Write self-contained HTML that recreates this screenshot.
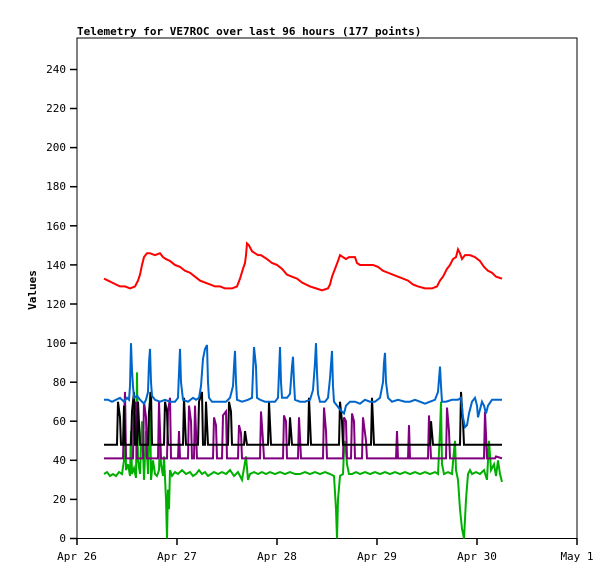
<!DOCTYPE html>
<html><head><meta charset="utf-8"><style>
html,body{margin:0;padding:0;background:#fff}
svg{display:block}
text{font-family:"DejaVu Sans Mono","Liberation Mono",monospace;font-size:11px;fill:#000}
</style></head><body>
<svg width="615" height="579" viewBox="0 0 615 579" xmlns="http://www.w3.org/2000/svg">
<rect width="615" height="579" fill="#fff"/>
<text x="77" y="35" font-weight="bold">Telemetry for VE7ROC over last 96 hours (177 points)</text>
<rect x="77" y="38" width="500" height="500.5" fill="none" stroke="#000" stroke-width="1"/>
<g stroke="#000" stroke-width="1.5">
<line x1="70" y1="538.5" x2="77" y2="538.5"/><line x1="70" y1="499.4" x2="77" y2="499.4"/><line x1="70" y1="460.3" x2="77" y2="460.3"/><line x1="70" y1="421.2" x2="77" y2="421.2"/><line x1="70" y1="382.2" x2="77" y2="382.2"/><line x1="70" y1="343.1" x2="77" y2="343.1"/><line x1="70" y1="304" x2="77" y2="304"/><line x1="70" y1="264.9" x2="77" y2="264.9"/><line x1="70" y1="225.8" x2="77" y2="225.8"/><line x1="70" y1="186.7" x2="77" y2="186.7"/><line x1="70" y1="147.6" x2="77" y2="147.6"/><line x1="70" y1="108.5" x2="77" y2="108.5"/><line x1="70" y1="69.5" x2="77" y2="69.5"/>
<line x1="77" y1="538" x2="77" y2="545"/><line x1="177" y1="538" x2="177" y2="545"/><line x1="277" y1="538" x2="277" y2="545"/><line x1="377" y1="538" x2="377" y2="545"/><line x1="477" y1="538" x2="477" y2="545"/><line x1="577" y1="538" x2="577" y2="545"/>
</g>
<g text-anchor="end">
<text x="66" y="542">0</text><text x="66" y="503">20</text><text x="66" y="464">40</text><text x="66" y="425">60</text><text x="66" y="386">80</text><text x="66" y="347">100</text><text x="66" y="308">120</text><text x="66" y="269">140</text><text x="66" y="230">160</text><text x="66" y="190">180</text><text x="66" y="151">200</text><text x="66" y="112">220</text><text x="66" y="73">240</text>
</g>
<g text-anchor="middle">
<text x="77" y="560">Apr 26</text><text x="177" y="560">Apr 27</text><text x="277" y="560">Apr 28</text><text x="377" y="560">Apr 29</text><text x="477" y="560">Apr 30</text><text x="577" y="560">May 1</text>
</g>
<text x="36" y="290" font-weight="bold" text-anchor="middle" transform="rotate(-90 36 290)">Values</text>
<g transform="translate(0,538.5) scale(1,-1.954)" fill="none" stroke-width="2" stroke-linejoin="miter">
<polyline vector-effect="non-scaling-stroke" stroke="#00b000" points="104,33 107,34 110,32 113,33 116,32 119,34 122,33 124,40 125,70 126,35 128,38 130,32 131,55 132,33 134,36 136,31 137,85 138,40 140,33 142,60 144,30 146,55 148,33 150,75 151,30 153,40 155,33 157,32 159,35 160,50 161,38 163,32 164,42 166,20 167,0 168,25 169,15 170,35 172,32 175,34 178,33 182,35 186,33 190,34 193,32 196,33 199,35 202,33 205,34 208,32 211,33 214,34 218,33 222,34 226,33 230,35 234,32 238,34 242,30 244,36 246,42 248,30 250,33 254,34 258,33 262,34 266,33 270,34 275,33 280,34 285,33 290,34 295,33 300,33 305,34 310,33 315,34 320,33 325,34 330,33 334,32 336,15 337,0 338,20 340,32 343,33 344,45 345,50 347,38 349,33 352,33 356,34 360,33 365,34 370,33 375,34 380,33 385,34 390,33 395,34 400,33 405,34 410,33 415,34 420,33 425,34 430,33 435,34 438,33 440,55 441,70 442,38 444,33 448,34 452,33 454,45 455,50 456,35 458,30 460,15 462,5 464,0 466,20 468,33 470,35 472,33 476,34 480,33 484,35 487,30 489,50 491,35 494,38 496,32 498,40 500,33 502,29"/>
<polyline vector-effect="non-scaling-stroke" stroke="#800080" points="104,41 123,41 124,60 125,75 126,41 133,41 134,65 136,70 137,41 143,41 144,70 146,62 147,41 158,41 159,70 161,41 167,41 168,65 170,72 171,41 178,41 179,55 180,41 188,41 189,68 191,60 192,41 194,41 195,68 197,41 213,41 214,62 216,58 217,41 222,41 223,63 226,65 227,41 238,41 239,58 241,54 242,41 260,41 261,65 263,50 264,41 283,41 284,63 286,60 287,41 298,41 299,62 301,41 323,41 324,67 326,55 327,41 343,41 344,62 346,60 347,41 351,41 352,64 354,60 355,41 362,41 363,62 366,50 367,41 396,41 397,55 398,41 408,41 409,58 410,41 428,41 429,63 431,41 446,41 447,67 449,55 450,41 484,41 485,65 487,41 495,41 496,42 502,41"/>
<polyline vector-effect="non-scaling-stroke" stroke="#000" points="104,48 117,48 118,70 120,62 121,48 123,48 124,68 125,48 131,48 132,65 134,75 135,48 137,48 138,70 140,48 148,48 149,65 151,75 152,48 164,48 165,70 167,65 168,48 183,48 184,72 186,48 198,48 199,70 202,75 203,48 205,48 206,70 208,48 228,48 229,70 231,65 232,48 244,48 245,55 247,48 268,48 269,70 271,48 289,48 290,62 292,48 308,48 309,72 311,48 339,48 340,70 342,60 343,48 371,48 372,72 374,48 430,48 431,60 433,48 460,48 461,75 463,60 464,48 502,48"/>
<polyline vector-effect="non-scaling-stroke" stroke="#0066cc" points="104,71 108,71 112,70 116,71 120,72 124,70 127,72 129,71 130,78 131,100 132,86 133,78 134,72 137,73 140,71 144,69 146,71 148,75 149,90 150,97 151,80 152,73 155,71 160,70 165,71 170,70 175,70 178,72 179,85 180,97 181,80 183,71 188,70 193,72 196,71 199,72 201,78 203,92 205,97 207,99 208,80 209,72 212,70 220,70 226,70 230,72 233,78 234,88 235,96 236,80 237,71 242,70 248,71 252,72 253,85 254,98 256,88 257,72 260,71 265,70 270,70 275,70 278,72 279,85 280,98 281,80 282,72 287,72 290,74 292,88 293,93 294,80 295,71 300,70 305,70 310,71 313,76 315,90 316,100 317,85 318,74 320,70 325,70 328,72 330,82 332,96 333,78 334,70 337,68 340,66 344,64 346,68 350,70 355,70 360,69 365,71 370,70 375,70 380,72 383,80 384,90 385,95 386,80 388,72 392,70 398,71 405,70 410,70 415,71 420,70 425,69 430,70 435,71 438,75 440,88 441,78 442,70 446,70 452,71 458,71 461,72 463,62 465,57 467,58 469,64 472,70 475,72 477,68 478,62 480,66 482,70 484,68 486,64 488,68 492,71 496,71 502,71"/>
<polyline vector-effect="non-scaling-stroke" stroke="#ff0000" points="104,133 108,132 112,131 116,130 120,129 125,129 130,128 135,129 138,132 140,135 142,140 144,144 147,146 150,146 155,145 160,146 163,144 166,143 170,142 175,140 180,139 185,137 190,136 195,134 200,132 205,131 210,130 215,129 220,129 225,128 232,128 237,129 240,133 243,138 245,141 246,145 247,151 249,150 252,147 255,146 258,145 261,145 264,144 267,143 272,141 277,140 282,138 287,135 292,134 297,133 302,131 310,129 316,128 322,127 328,128 330,130 332,134 335,138 338,142 340,145 343,144 346,143 349,144 352,144 355,144 357,141 360,140 367,140 373,140 378,139 383,137 388,136 393,135 398,134 403,133 408,132 413,130 418,129 425,128 432,128 437,129 440,132 443,134 447,138 450,140 453,143 456,144 458,148 460,146 462,143 465,145 470,145 475,144 480,142 484,139 488,137 492,136 496,134 502,133"/>
</g>
</svg>
</body></html>
